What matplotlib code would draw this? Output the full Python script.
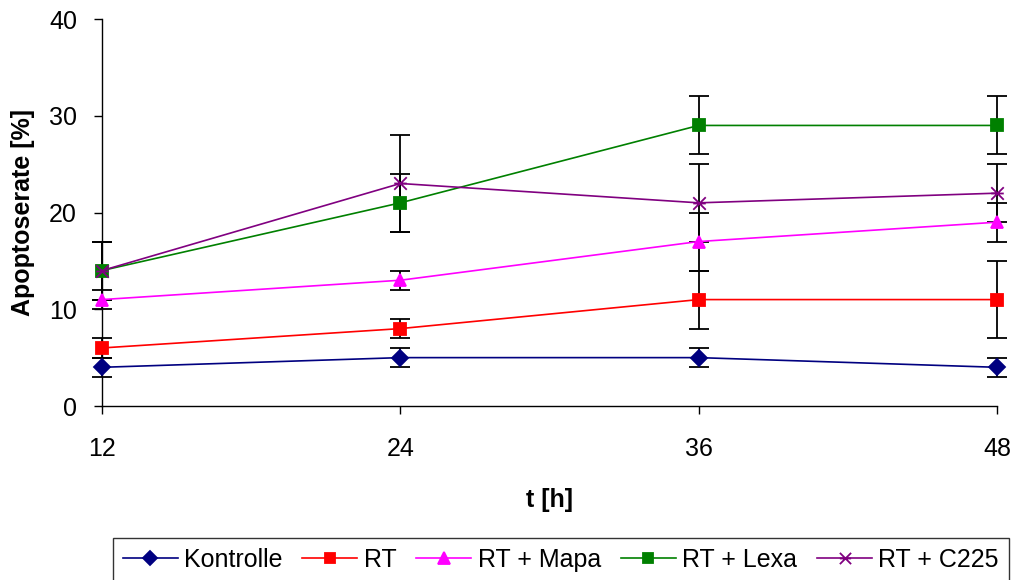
import matplotlib.pyplot as plt
from matplotlib.path import Path

plt.rcParams['font.family'] = ['Liberation Sans', 'DejaVu Sans']

# Data
t = [12, 24, 36, 48]
kontrolle = [4, 5, 5, 4]
kontrolle_err = [1, 1, 1, 1]
rt = [6, 8, 11, 11]
rt_err = [1, 1, 3, 4]
rt_mapa = [11, 13, 17, 19]
rt_mapa_err = [1, 1, 3, 2]
rt_lexa = [14, 21, 29, 29]
rt_lexa_err = [3, 3, 3, 3]
rt_c225 = [14, 23, 21, 22]
rt_c225_err = [3, 5, 4, 3]

# Excel-like star marker: X with horizontal bar
star = Path([(-1, -1), (1, 1), (-1, 1), (1, -1), (-1, 0), (1, 0)],
            [Path.MOVETO, Path.LINETO, Path.MOVETO, Path.LINETO,
             Path.MOVETO, Path.LINETO])

series = [
    ('Kontrolle', kontrolle, kontrolle_err, '#000080', 'D', 8),
    ('RT', rt, rt_err, '#FF0000', 's', 8),
    ('RT + Mapa', rt_mapa, rt_mapa_err, '#FF00FF', '^', 9),
    ('RT + Lexa', rt_lexa, rt_lexa_err, '#008000', 's', 8),
    ('RT + C225', rt_c225, rt_c225_err, '#800080', star, 9),
]

fig = plt.figure(figsize=(10.14, 5.8), dpi=100)
ax = fig.add_axes([0.1006, 0.3, 0.8826, 0.6672])

for name, vals, err, col, mk, ms in series:
    ax.errorbar(t, vals, yerr=err, fmt='none', ecolor='black',
                elinewidth=1.3, capsize=7, capthick=1.3, zorder=2)

for name, vals, err, col, mk, ms in series:
    ax.plot(t, vals, color=col, linewidth=1.2, marker=mk, markersize=ms,
            markerfacecolor=col, markeredgecolor=col, markeredgewidth=1.3,
            label=name, zorder=3)

ax.set_xlim(12, 48)
ax.set_ylim(0, 40)
ax.set_xticks(t)
ax.set_yticks([0, 10, 20, 30, 40])
ax.tick_params(axis='both', labelsize=18, length=6, width=1, direction='out')
ax.tick_params(axis='x', pad=16)
ax.tick_params(axis='y', pad=12)
ax.spines['top'].set_visible(False)
ax.spines['right'].set_visible(False)
ax.spines['left'].set_linewidth(1)
ax.spines['bottom'].set_linewidth(1)
for line in ax.lines:
    line.set_clip_on(False)
for coll in ax.collections:
    coll.set_clip_on(False)

ax.set_xlabel('t [h]', fontsize=18, fontweight='bold', labelpad=20)
ax.set_ylabel('Apoptoserate [%]', fontsize=18, fontweight='bold', labelpad=10)

leg = fig.legend(loc='lower center', bbox_to_anchor=(0.553, -0.025), ncol=5,
                 fontsize=18, frameon=True, fancybox=False, edgecolor='black',
                 handlelength=2.2, handletextpad=0.25, columnspacing=0.8,
                 borderpad=0.4, markerscale=0.9)
leg.get_frame().set_linewidth(1)

fig.savefig('out.png', dpi=100)
